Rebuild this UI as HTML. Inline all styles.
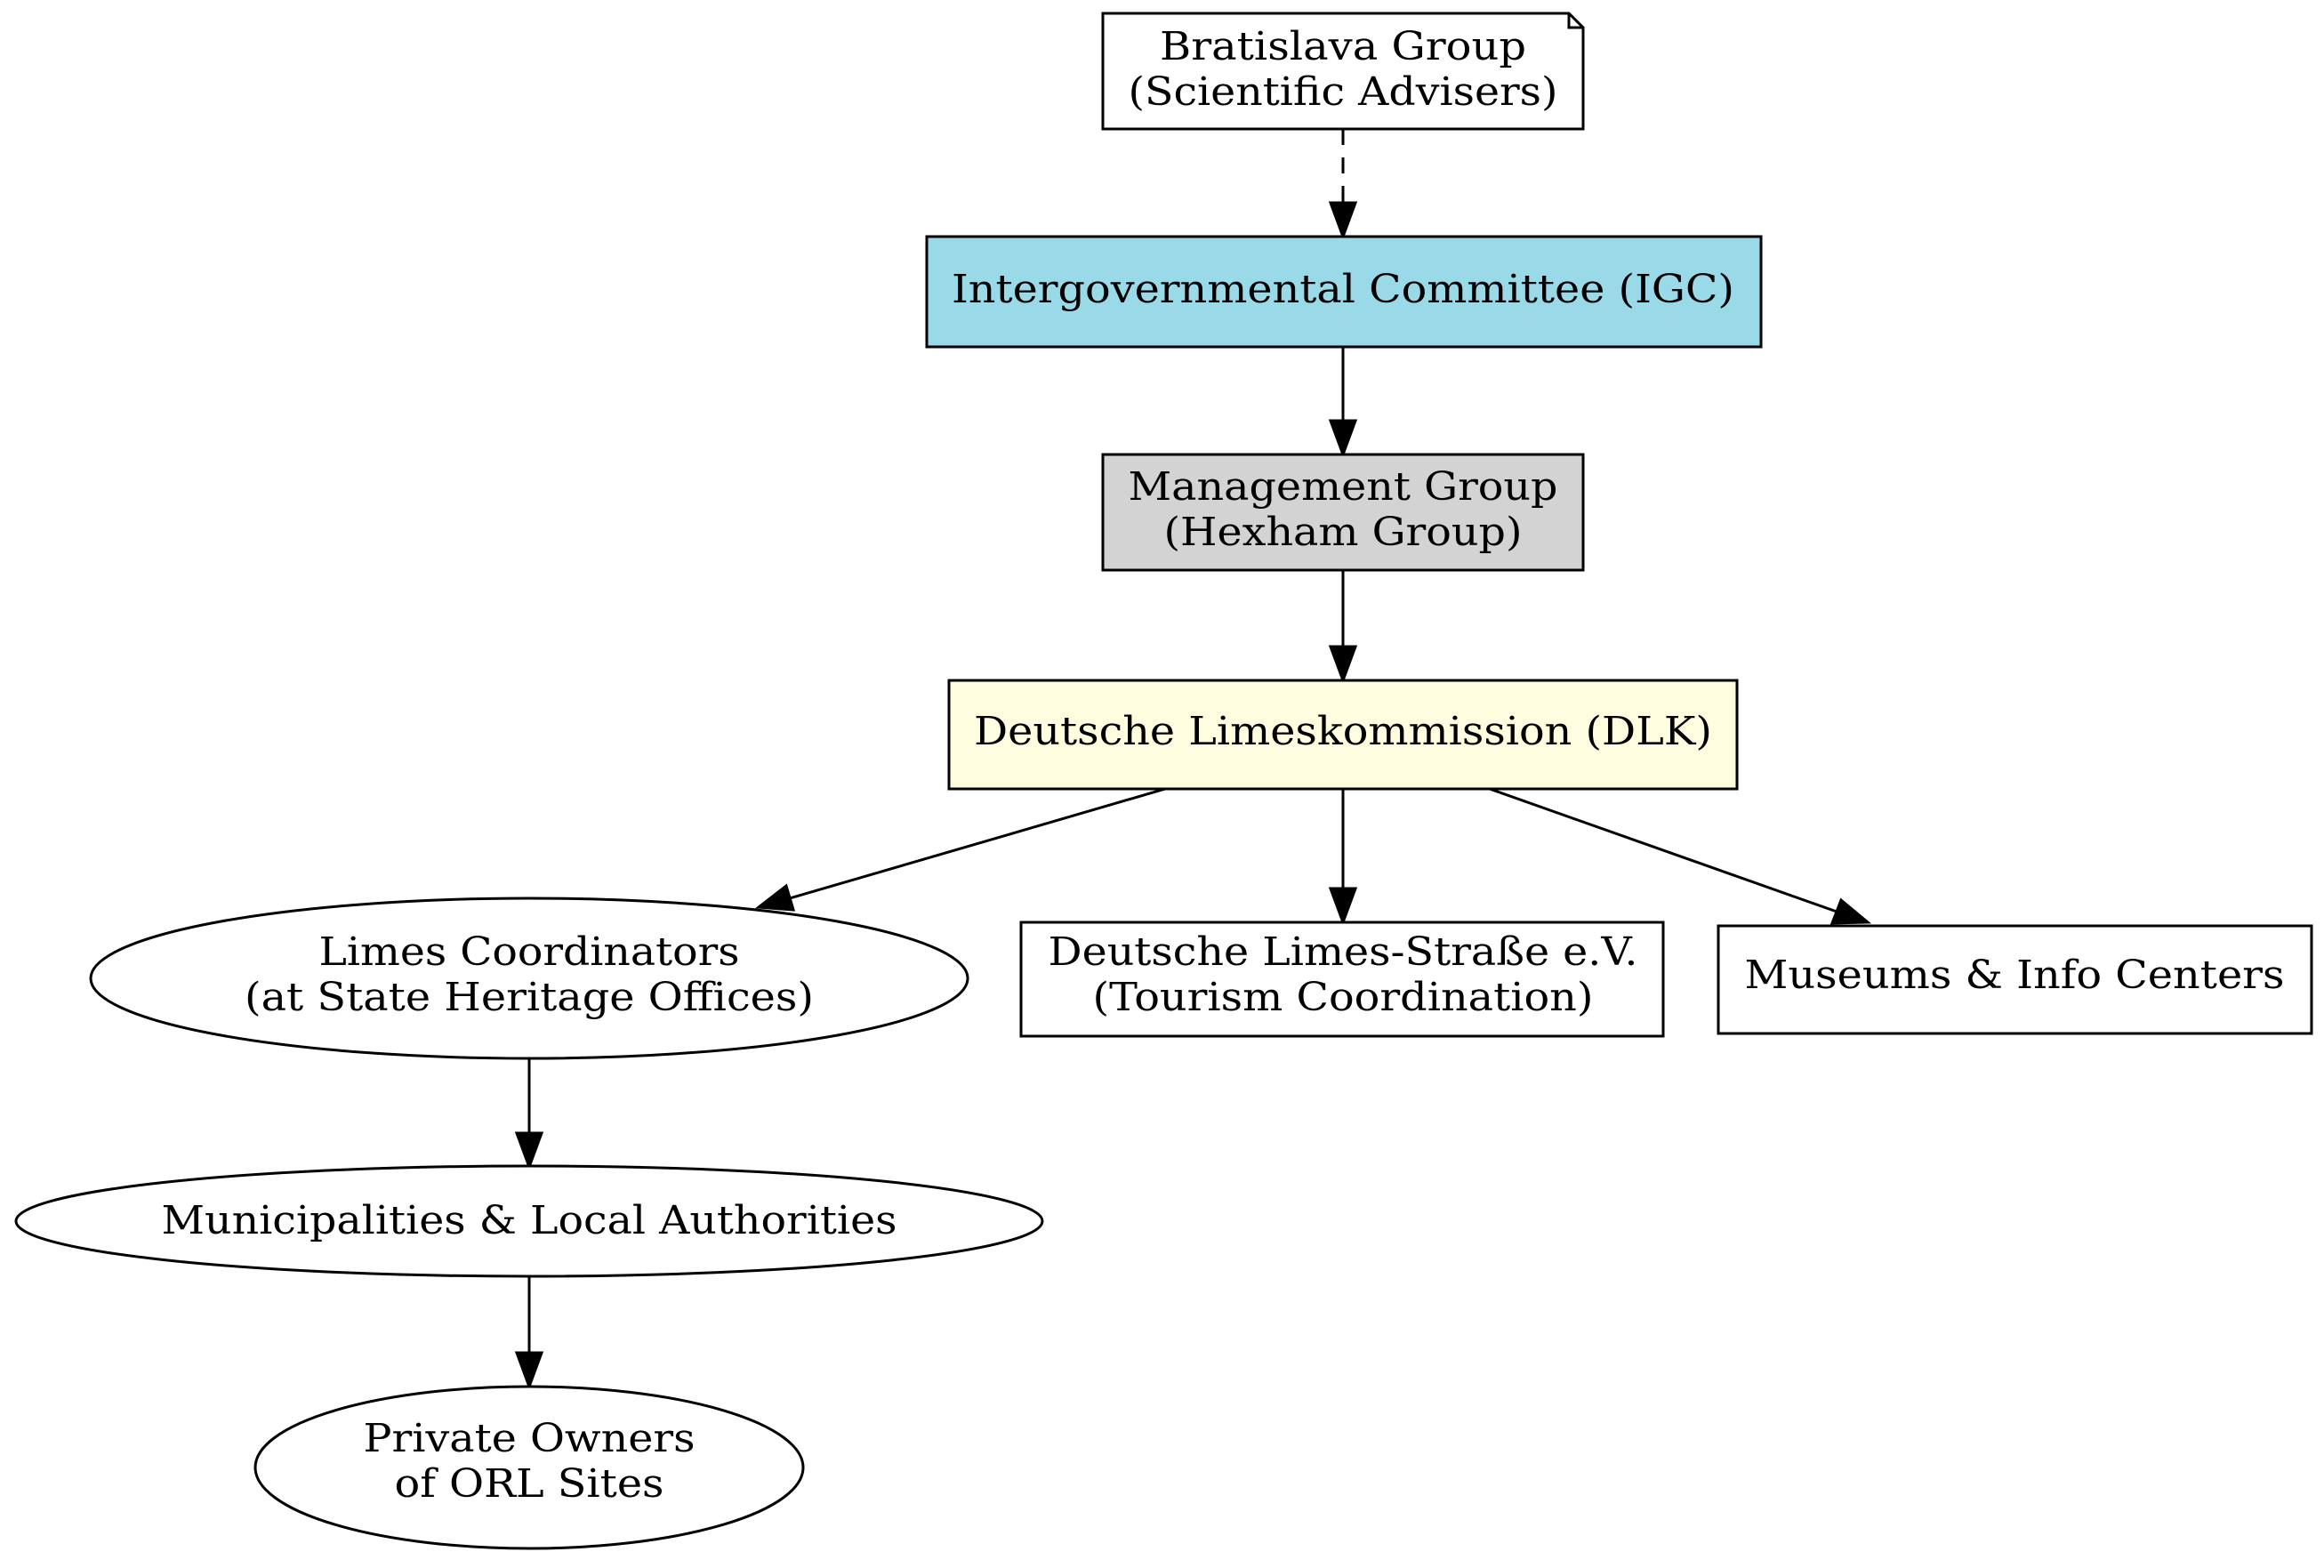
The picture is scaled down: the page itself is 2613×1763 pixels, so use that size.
<!DOCTYPE html>
<html><head><meta charset="utf-8"><style>
html,body{margin:0;padding:0;background:#fff;}
svg{display:block;}
text{font-family:"DejaVu Serif","Liberation Serif",serif;font-size:44px;fill:#000;text-anchor:middle;}
</style></head><body>
<svg width="2613" height="1763" viewBox="0 0 2613 1763" xmlns="http://www.w3.org/2000/svg">
<g stroke="#000" stroke-width="3" fill="none">
<line x1="1510" y1="145" x2="1510" y2="228" stroke-dasharray="18,14"/>
<line x1="1510" y1="390" x2="1510" y2="473"/>
<line x1="1510" y1="641" x2="1510" y2="727"/>
<line x1="1310" y1="887" x2="888" y2="1010"/>
<line x1="1510" y1="887" x2="1510" y2="999"/>
<line x1="1675" y1="887" x2="2065" y2="1025"/>
<line x1="595" y1="1190" x2="595" y2="1274"/>
<line x1="595" y1="1435" x2="595" y2="1521"/>
</g>
<g fill="#000" stroke="#000" stroke-width="3">
<polygon points="1496,228 1524,228 1510,266"/>
<polygon points="1496,473 1524,473 1510,511"/>
<polygon points="1496,727 1524,727 1510,765"/>
<polygon points="884,996 892,1023 853,1020"/>
<polygon points="1496,999 1524,999 1510,1037"/>
<polygon points="2070,1012 2060,1038 2100,1037"/>
<polygon points="581,1274 609,1274 595,1312"/>
<polygon points="581,1521 609,1521 595,1559"/>
</g>
<g stroke="#000" stroke-width="3">
<path d="M1240,15 H1764 L1780,31 V145 H1240 Z" fill="#fff"/>
<path d="M1764,15 V31 H1780" fill="none"/>
<rect x="1042" y="266" width="938" height="124" fill="#9ad9e8"/>
<rect x="1240" y="511" width="540" height="130" fill="#d3d3d3"/>
<rect x="1067" y="765" width="886" height="122" fill="#fffde0"/>
<ellipse cx="595" cy="1100" rx="493" ry="90" fill="#fff"/>
<rect x="1148" y="1037" width="722" height="128" fill="#fff"/>
<rect x="1932" y="1041" width="667" height="121" fill="#fff"/>
<ellipse cx="595" cy="1373" rx="577" ry="62" fill="#fff"/>
<ellipse cx="595" cy="1650" rx="308" ry="91" fill="#fff"/>
</g>
<text x="1510" y="67" textLength="412" lengthAdjust="spacingAndGlyphs">Bratislava Group</text>
<text x="1510" y="118" textLength="483" lengthAdjust="spacingAndGlyphs">(Scientific Advisers)</text>
<text x="1510" y="340" textLength="880" lengthAdjust="spacingAndGlyphs">Intergovernmental Committee (IGC)</text>
<text x="1510" y="562" textLength="483" lengthAdjust="spacingAndGlyphs">Management Group</text>
<text x="1510" y="613" textLength="403" lengthAdjust="spacingAndGlyphs">(Hexham Group)</text>
<text x="1510" y="837" textLength="830" lengthAdjust="spacingAndGlyphs">Deutsche Limeskommission (DLK)</text>
<text x="595" y="1085" textLength="473" lengthAdjust="spacingAndGlyphs">Limes Coordinators</text>
<text x="595" y="1136" textLength="640" lengthAdjust="spacingAndGlyphs">(at State Heritage Offices)</text>
<text x="1510" y="1085" textLength="663" lengthAdjust="spacingAndGlyphs">Deutsche Limes-Straße e.V.</text>
<text x="1510" y="1136" textLength="563" lengthAdjust="spacingAndGlyphs">(Tourism Coordination)</text>
<text x="2265" y="1111" textLength="607" lengthAdjust="spacingAndGlyphs">Museums &amp; Info Centers</text>
<text x="595" y="1387" textLength="827" lengthAdjust="spacingAndGlyphs">Municipalities &amp; Local Authorities</text>
<text x="595" y="1632" textLength="373" lengthAdjust="spacingAndGlyphs">Private Owners</text>
<text x="595" y="1683" textLength="303" lengthAdjust="spacingAndGlyphs">of ORL Sites</text>
</svg>
</body></html>
